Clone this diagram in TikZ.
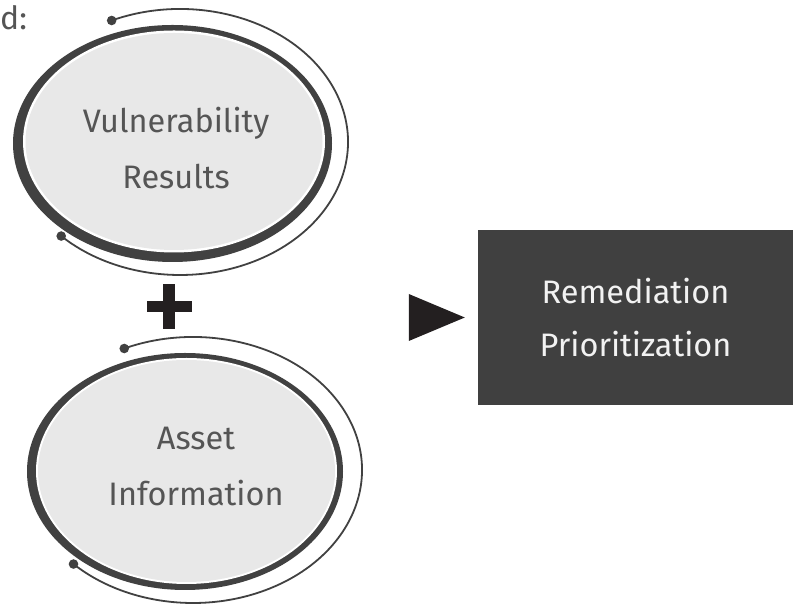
\documentclass[tikz,border=0pt]{standalone}
\usepackage{fontspec}
\setmainfont{Fira Sans}
\usetikzlibrary{shapes.geometric}
\definecolor{ring}{HTML}{414141}
\definecolor{disc}{HTML}{E8E8E8}
\definecolor{ink}{HTML}{231F20}
\definecolor{label}{HTML}{555555}
\definecolor{boxfill}{HTML}{404040}
\tikzset{
  disctext/.style={inner sep=0pt, text=label, align=center,
    font=\fontsize{32.5}{56}\selectfont},
  orbit/.style={draw=ring, line width=1.8pt},
  orbitdot/.style={fill=ring},
  resultbox/.style={rectangle, fill=boxfill, text=white!95!black, align=center,
    minimum width=315pt, minimum height=175pt, inner sep=0pt,
    font=\fontsize{32.5}{53}\selectfont},
}
\begin{document}
\begin{tikzpicture}[x=1pt,y=1pt]
\useasboundingbox (0,0) rectangle (793,607);

% trailing text from the previous line
\node[anchor=base west, inner sep=0pt, text=label, font=\fontsize{32}{36}\selectfont] (lead) at (0,577) {d:};

% ---- upper disc: Vulnerability Results ----
\fill[ring] (172.5,463.5) ellipse[x radius=159.5, y radius=118.5];
\fill[white] (174,465.5) ellipse[x radius=151, y radius=111];
\fill[disc] (174,465.5) ellipse[x radius=148.5, y radius=108.5];
\node[disctext] (vuln) at (176,459) {Vulnerability\\Results};
\coordinate (vorb) at (180,465);
\draw[orbit] ([shift={(114:168 and 133)}]vorb) arc[start angle=114, end angle=-135, x radius=168, y radius=133];
\fill[orbitdot] ([shift={(114:168 and 133)}]vorb) circle[radius=4.8];
\fill[orbitdot] ([shift={(225:168 and 133)}]vorb) circle[radius=4.8];

% ---- plus sign ----
\coordinate (plus) at (169,300);
\fill[ink] ([shift={(-22.5,-5.5)}]plus) rectangle ([shift={(22.5,5.5)}]plus);
\fill[ink] ([shift={(-6,-22.5)}]plus) rectangle ([shift={(6,22.5)}]plus);

% ---- lower disc: Asset Information ----
\fill[ring] (185,135.5) ellipse[x radius=158, y radius=118.5];
\fill[white] (186.5,136) ellipse[x radius=150.5, y radius=113];
\fill[disc] (186.5,136) ellipse[x radius=148.5, y radius=111];
\node[disctext] (asset) at (196,140) {Asset\\Information};
\coordinate (aorb) at (193,137);
\draw[orbit] ([shift={(114:169 and 133)}]aorb) arc[start angle=114, end angle=-135, x radius=169, y radius=133];
\fill[orbitdot] ([shift={(114:169 and 133)}]aorb) circle[radius=4.8];
\fill[orbitdot] ([shift={(225:169 and 133)}]aorb) circle[radius=4.8];

% ---- result ----
\node[resultbox] (remed) at (635.5,289.5) {Remediation\\Prioritization};
\coordinate (tip) at ([xshift=-13]remed.west);
\fill[ink] (tip) -- ++(-56,23.5) -- ++(0,-47) -- cycle;
\end{tikzpicture}
\end{document}
